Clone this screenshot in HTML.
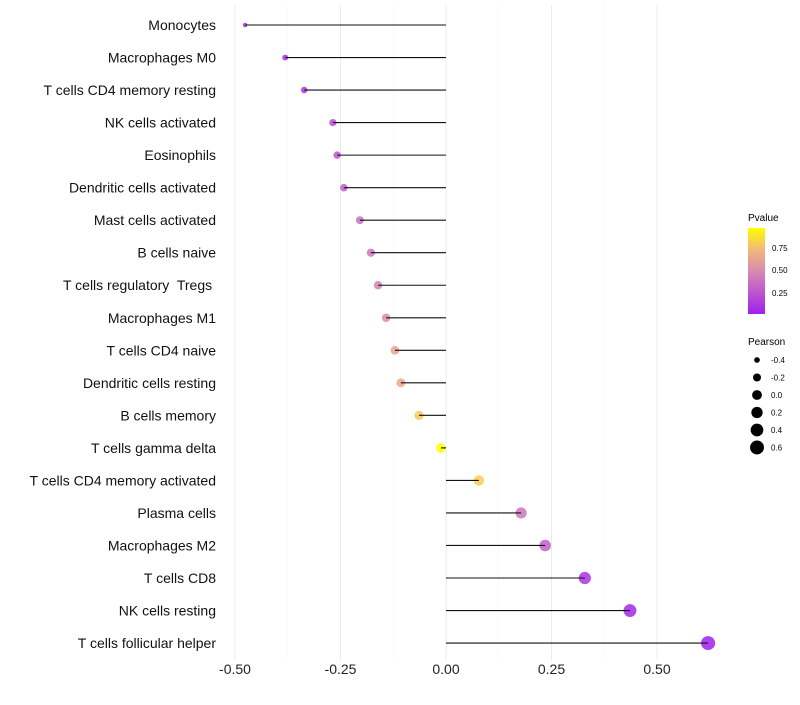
<!DOCTYPE html>
<html><head><meta charset="utf-8"><style>
body{margin:0;background:#fff;font-family:"Liberation Sans",sans-serif}
#labels text{white-space:pre}
</style></head><body>
<svg id="chart" width="800" height="700" xmlns="http://www.w3.org/2000/svg">
<defs><linearGradient id="pg" x1="0" y1="1" x2="0" y2="0">
<stop offset="0" stop-color="#a020f0"/><stop offset="0.5" stop-color="#d98ab0"/><stop offset="0.75" stop-color="#f2b87a"/><stop offset="1" stop-color="#ffff00"/></linearGradient></defs>
<g id="grid"></g><g id="marks"></g><g id="labels"></g>
<g>
<text x="748" y="221" font-size="10">Pvalue</text>
<rect x="748" y="228" width="17" height="86" fill="url(#pg)"/>
<text x="772" y="251" font-size="8">0.75</text>
<text x="772" y="273" font-size="8">0.50</text>
<text x="772" y="296" font-size="8">0.25</text>
</g>
<g id="sizeleg">
<text x="748" y="345" font-size="10">Pearson</text>
</g>
</svg>
<script>
const categories=["Monocytes","Macrophages M0","T cells CD4 memory resting","NK cells activated","Eosinophils","Dendritic cells activated","Mast cells activated","B cells naive","T cells regulatory  Tregs ","Macrophages M1","T cells CD4 naive","Dendritic cells resting","B cells memory","T cells gamma delta","T cells CD4 memory activated","Plasma cells","Macrophages M2","T cells CD8","NK cells resting","T cells follicular helper"];
const pearson=[-0.476,-0.381,-0.336,-0.268,-0.258,-0.242,-0.204,-0.178,-0.161,-0.142,-0.121,-0.107,-0.064,-0.012,0.078,0.178,0.235,0.329,0.436,0.621];
const pvalue=[0.05,0.08,0.12,0.22,0.25,0.28,0.36,0.4,0.45,0.5,0.62,0.65,0.78,0.96,0.8,0.4,0.3,0.1,0.05,0.02];
const xTicks=[-0.5,-0.25,0,0.25,0.5];
const xTickLabels=["-0.50","-0.25","0.00","0.25","0.50"];
const sizeLegend=[-0.4,-0.2,0,0.2,0.4,0.6];
const NS="http://www.w3.org/2000/svg";
const x=v=>446+v*422;
const y=i=>25+i*32.53;
const r=v=>Math.sqrt(4+(v+0.5)*(49-4)/1.12);
function col(p){const s=[[0,[160,32,240]],[0.5,[217,138,176]],[0.75,[242,184,122]],[1,[255,255,0]]];
 const t=Math.max(0,Math.min(1,(p-0.02)/0.94));
 for(let k=0;k<s.length-1;k++){if(t<=s[k+1][0]){const f=(t-s[k][0])/(s[k+1][0]-s[k][0]);const a=s[k][1],b=s[k+1][1];return `rgb(${a.map((c,j)=>Math.round(c+(b[j]-c)*f)).join(',')})`;}}return 'rgb(255,255,0)';}
function el(t,a,p){const e=document.createElementNS(NS,t);for(const k in a)e.setAttribute(k,a[k]);p.appendChild(e);return e;}
const grid=document.getElementById('grid'),marks=document.getElementById('marks'),labels=document.getElementById('labels');
for(let k=0;k<xTicks.length;k++){
 const g=el('line',{x1:x(xTicks[k]),x2:x(xTicks[k]),y1:5,y2:660,stroke:'#ebebeb','stroke-width':1},grid);
 
 
 if(k<xTicks.length-1){const m=el('line',{x1:x((xTicks[k]+xTicks[k+1])/2),x2:x((xTicks[k]+xTicks[k+1])/2),y1:5,y2:660,stroke:'#f5f5f5','stroke-width':0.6},grid);
 
 }
 const t=el('text',{x:x(xTicks[k]),y:674,'font-size':14,'text-anchor':'middle',fill:'#222'},labels);
 t.textContent=xTickLabels[k];
 
 
}
categories.forEach((c,i)=>{
 const t=el('text',{x:216,y:y(i)+5,'font-size':14,'text-anchor':'end',fill:'#111'},labels);
 t.textContent=c;
 
 
 const d=el('circle',{cx:x(pearson[i]),cy:y(i),r:r(pearson[i]),fill:col(pvalue[i]),'fill-opacity':0.85},marks);
 
 
 const l=el('line',{x1:x(0),x2:x(pearson[i]),y1:y(i),y2:y(i),stroke:'#111','stroke-width':1.1},marks);
 
 
});
const sl=document.getElementById('sizeleg');
sizeLegend.forEach((v,k)=>{
 const cy=360+k*17.5;
 const c=el('circle',{cx:757,cy:cy,r:r(v),fill:'#000'},sl);
 
 
 const t=el('text',{x:771,y:cy+3,'font-size':8},sl);
 t.textContent=v.toFixed(1);
 
 
});
</script>
</body></html>
